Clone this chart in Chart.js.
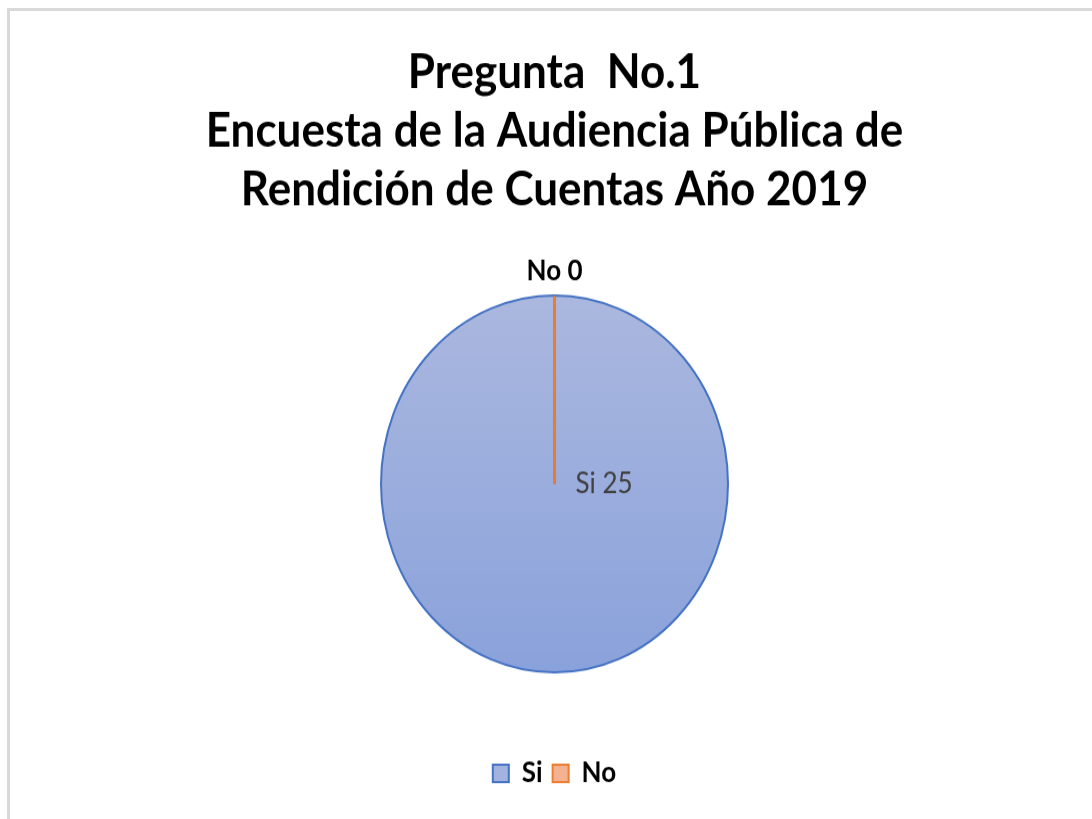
<!DOCTYPE html>
<html lang="es">
<head>
<meta charset="utf-8">
<title>Pregunta No.1</title>
<script src="https://cdn.jsdelivr.net/npm/chart.js@4.4.1/dist/chart.umd.min.js"></script>
<style>
	html, body { margin: 0; padding: 0; background: #fff; overflow: hidden; }
	#frame { position: absolute; left: 7px; top: 8px; width: 1200px; height: 900px; border-left: 3px solid #d9d9d9; border-top: 3px solid #d9d9d9; }
	#wrap { position: absolute; left: 0; top: 0; width: 1092px; height: 754px; transform: scaleY(1.0862); transform-origin: 0 0; }
	canvas { display: block; }
</style>
</head>
<body>
<div id="frame"></div>
<div id="wrap">
	<canvas id="pieChart" width="1092" height="754" style="width:1092px;height:754px"></canvas>
</div>
<script>
	const titleLines = ['Pregunta  No.1', 'Encuesta de la Audiencia Pública de', 'Rendición de Cuentas Año 2019'];
	const labels = ['Si', 'No'];
	const values = [25, 0];
	const lineColors = ['#4472c4', '#ed7d31'];
	const legendFills = ['#a2b3e0', '#f4b293'];

	const pieRadius = 173.5;

	// Excel-ish soft gradient on the big slice
	function sliceFill(context) {
		const chart = context.chart;
		const area = chart.chartArea;
		if (!area) {
			return legendFills[context.dataIndex];
		}
		if (context.dataIndex === 1) {
			return legendFills[1];
		}
		const cy = (area.top + area.bottom) / 2;
		const grad = chart.ctx.createLinearGradient(0, cy - pieRadius, 0, cy + pieRadius);
		grad.addColorStop(0, '#abb8df');
		grad.addColorStop(1, '#8aa2db');
		return grad;
	}

	const sliceLabels = {
		id: 'sliceLabels',
		afterDatasetsDraw(chart) {
			const ctx = chart.ctx;
			const meta = chart.getDatasetMeta(0);
			const siArc = meta.data[0];
			const noArc = meta.data[1];

			// a zero slice is skipped by Chart.js, but Excel still shows its edge
			ctx.save();
			ctx.strokeStyle = lineColors[1];
			ctx.lineWidth = 2;
			ctx.beginPath();
			ctx.moveTo(noArc.x, noArc.y);
			ctx.lineTo(noArc.x + Math.cos(noArc.startAngle) * noArc.outerRadius, noArc.y + Math.sin(noArc.startAngle) * noArc.outerRadius);
			ctx.stroke();

			ctx.textBaseline = 'middle';
			ctx.fillStyle = '#404040';
			ctx.textAlign = 'left';
			ctx.font = '26px Lato';
			ctx.fillText(`${labels[0]} ${values[0]}`, siArc.x + 21, siArc.y);

			ctx.fillStyle = '#000';
			ctx.textAlign = 'center';
			ctx.font = 'bold 26px Lato';
			ctx.fillText(`${labels[1]} ${values[1]}`, noArc.x, noArc.y - noArc.outerRadius - 22);
			ctx.restore();
		}
	};

	new Chart(document.getElementById('pieChart'), {
		type: 'pie',
		data: {
			labels: labels,
			datasets: [{
				data: values,
				backgroundColor: sliceFill,
				borderColor: lineColors,
				borderWidth: 2
			}]
		},
		options: {
			responsive: false,
			animation: false,
			radius: pieRadius,
			layout: {
				padding: { top: 0, left: 17, right: 0, bottom: 19 }
			},
			plugins: {
				tooltip: { enabled: false },
				title: {
					display: true,
					text: titleLines,
					color: '#000',
					font: { family: 'Lato', size: 44, weight: 'bold', lineHeight: 54 / 44 },
					padding: { top: 40, bottom: 0 }
				},
				legend: {
					position: 'bottom',
					labels: {
						boxWidth: 16,
						boxHeight: 16,
						padding: 10,
						color: '#000',
						font: { family: 'Lato', size: 26, weight: 'bold' },
						generateLabels: () => labels.map((text, i) => ({
							text: text,
							fillStyle: legendFills[i],
							strokeStyle: lineColors[i],
							lineWidth: 2,
							hidden: false,
							index: i,
							datasetIndex: 0
						}))
					}
				}
			}
		},
		plugins: [sliceLabels]
	});
</script>
</body>
</html>
